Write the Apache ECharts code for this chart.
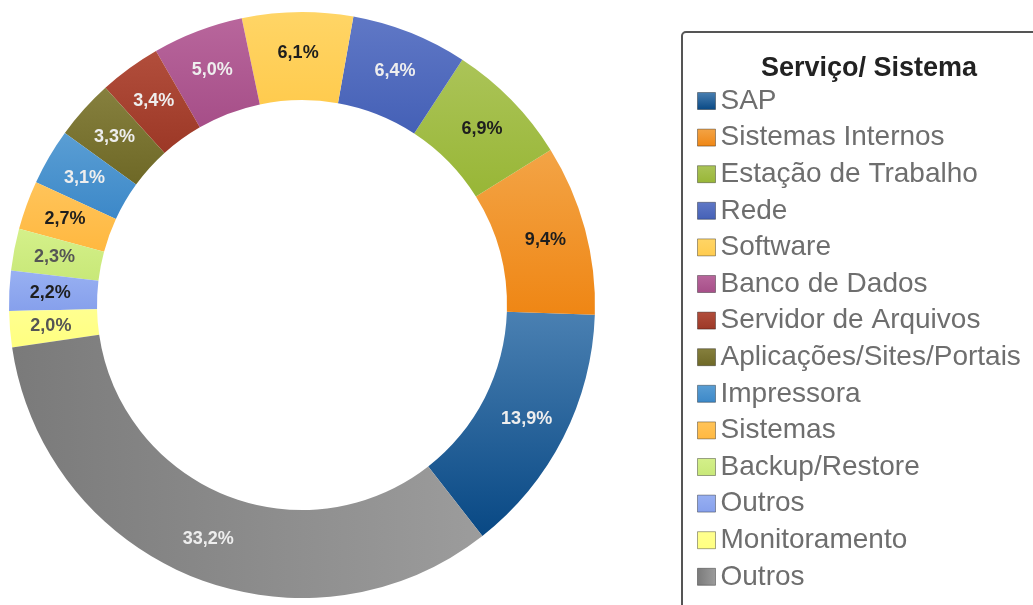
<!DOCTYPE html>
<html>
<head>
<meta charset="utf-8">
<script src="https://cdn.jsdelivr.net/npm/echarts@6/dist/echarts.min.js"></script>
<style>
  html, body { margin: 0; padding: 0; background: #fff; }
  #chart { width: 1033px; height: 605px; }
</style>
</head>
<body>
<div id="chart"></div>
<script>
// categorias e valores (%)
const categorias = ['SAP', 'Sistemas Internos', 'Estação de Trabalho', 'Rede', 'Software',
  'Banco de Dados', 'Servidor de Arquivos', 'Aplicações/Sites/Portais', 'Impressora',
  'Sistemas', 'Backup/Restore', 'Outros', 'Monitoramento', 'Outros'];
const valores = [13.9, 9.4, 6.9, 6.4, 6.1, 5.0, 3.4, 3.3, 3.1, 2.7, 2.3, 2.2, 2.0, 33.2];

// cores (topo/esquerda -> base/direita) e cor do rótulo
const coresA = ['#4a80b2', '#f3a446', '#abc458', '#6078c6', '#ffd566', '#b8669c', '#b24e3c', '#86803e', '#5a9ed4', '#ffc45a', '#d4f08a', '#98b0f2', '#ffff90', '#7a7a7a'];
const coresB = ['#084884', '#ef8614', '#98b636', '#4460b6', '#ffcb4e', '#a64e88', '#9c3826', '#6e6826', '#3c88c8', '#ffb840', '#c8e878', '#86a0ec', '#ffff80', '#9c9c9c'];
const corRotulo = ['#eeeeee', '#1e1e1e', '#1e1e1e', '#eeeeee', '#1e1e1e', '#eeeeee', '#eeeeee',
  '#eeeeee', '#eeeeee', '#1e1e1e', '#555555', '#1e1e1e', '#555555', '#eeeeee'];

// nomes únicos para a legenda (há dois "Outros")
const vistos = {};
const nomes = categorias.map(c => {
  let n = c;
  while (vistos[n]) n += ' ';
  vistos[n] = true;
  return n;
});

const dados = valores.map((v, i) => {
  const horizontal = i === 13;
  return {
    name: nomes[i],
    value: v,
    itemStyle: {
      color: {
        type: 'linear',
        x: 0, y: 0, x2: horizontal ? 1 : 0, y2: horizontal ? 0 : 1,
        colorStops: [
          { offset: 0, color: coresA[i] },
          { offset: 1, color: coresB[i] }
        ]
      }
    },
    label: { color: corRotulo[i] }
  };
});

const myChart = echarts.init(document.getElementById('chart'));

const option = {
  backgroundColor: '#fff',
  animation: false,
  textStyle: { fontFamily: 'Liberation Sans, Arial, sans-serif' },
  title: {
    text: 'Serviço/ Sistema',
    left: 864,
    top: 50,
    textAlign: 'center',
    textStyle: {
      fontFamily: 'Liberation Sans, Arial, sans-serif',
      fontSize: 27,
      fontWeight: 'bold',
      color: '#222'
    }
  },
  legend: {
    orient: 'vertical',
    left: 682,
    top: 32,
    height: 800,
    padding: [55, 60, 40, 15],
    borderColor: '#555',
    borderWidth: 2,
    borderRadius: 4,
    icon: 'rect',
    itemWidth: 18,
    itemHeight: 17,
    itemGap: 8.6,
    itemTextGap: 17,
    selectedMode: false,
    itemStyle: { borderWidth: 1, borderColor: 'rgba(0,0,0,0.35)' },
    data: nomes,
    formatter: n => n.trim(),
    textStyle: {
      fontSize: 28,
      lineHeight: 28,
      color: '#6e6e6e'
    }
  },
  series: [
    {
      type: 'pie',
      center: [302, 305],
      radius: [205, 293],
      startAngle: -52,
      clockwise: false,
      avoidLabelOverlap: false,
      label: {
        show: true,
        position: 'inside',
        fontSize: 18,
        fontWeight: 'bold',
        formatter: p => p.value.toFixed(1).replace('.', ',') + '%'
      },
      labelLine: { show: false },
      emphasis: { disabled: true },
      data: dados
    }
  ]
};

myChart.setOption(option);
window.addEventListener('resize', () => myChart.resize());
</script>
</body>
</html>
